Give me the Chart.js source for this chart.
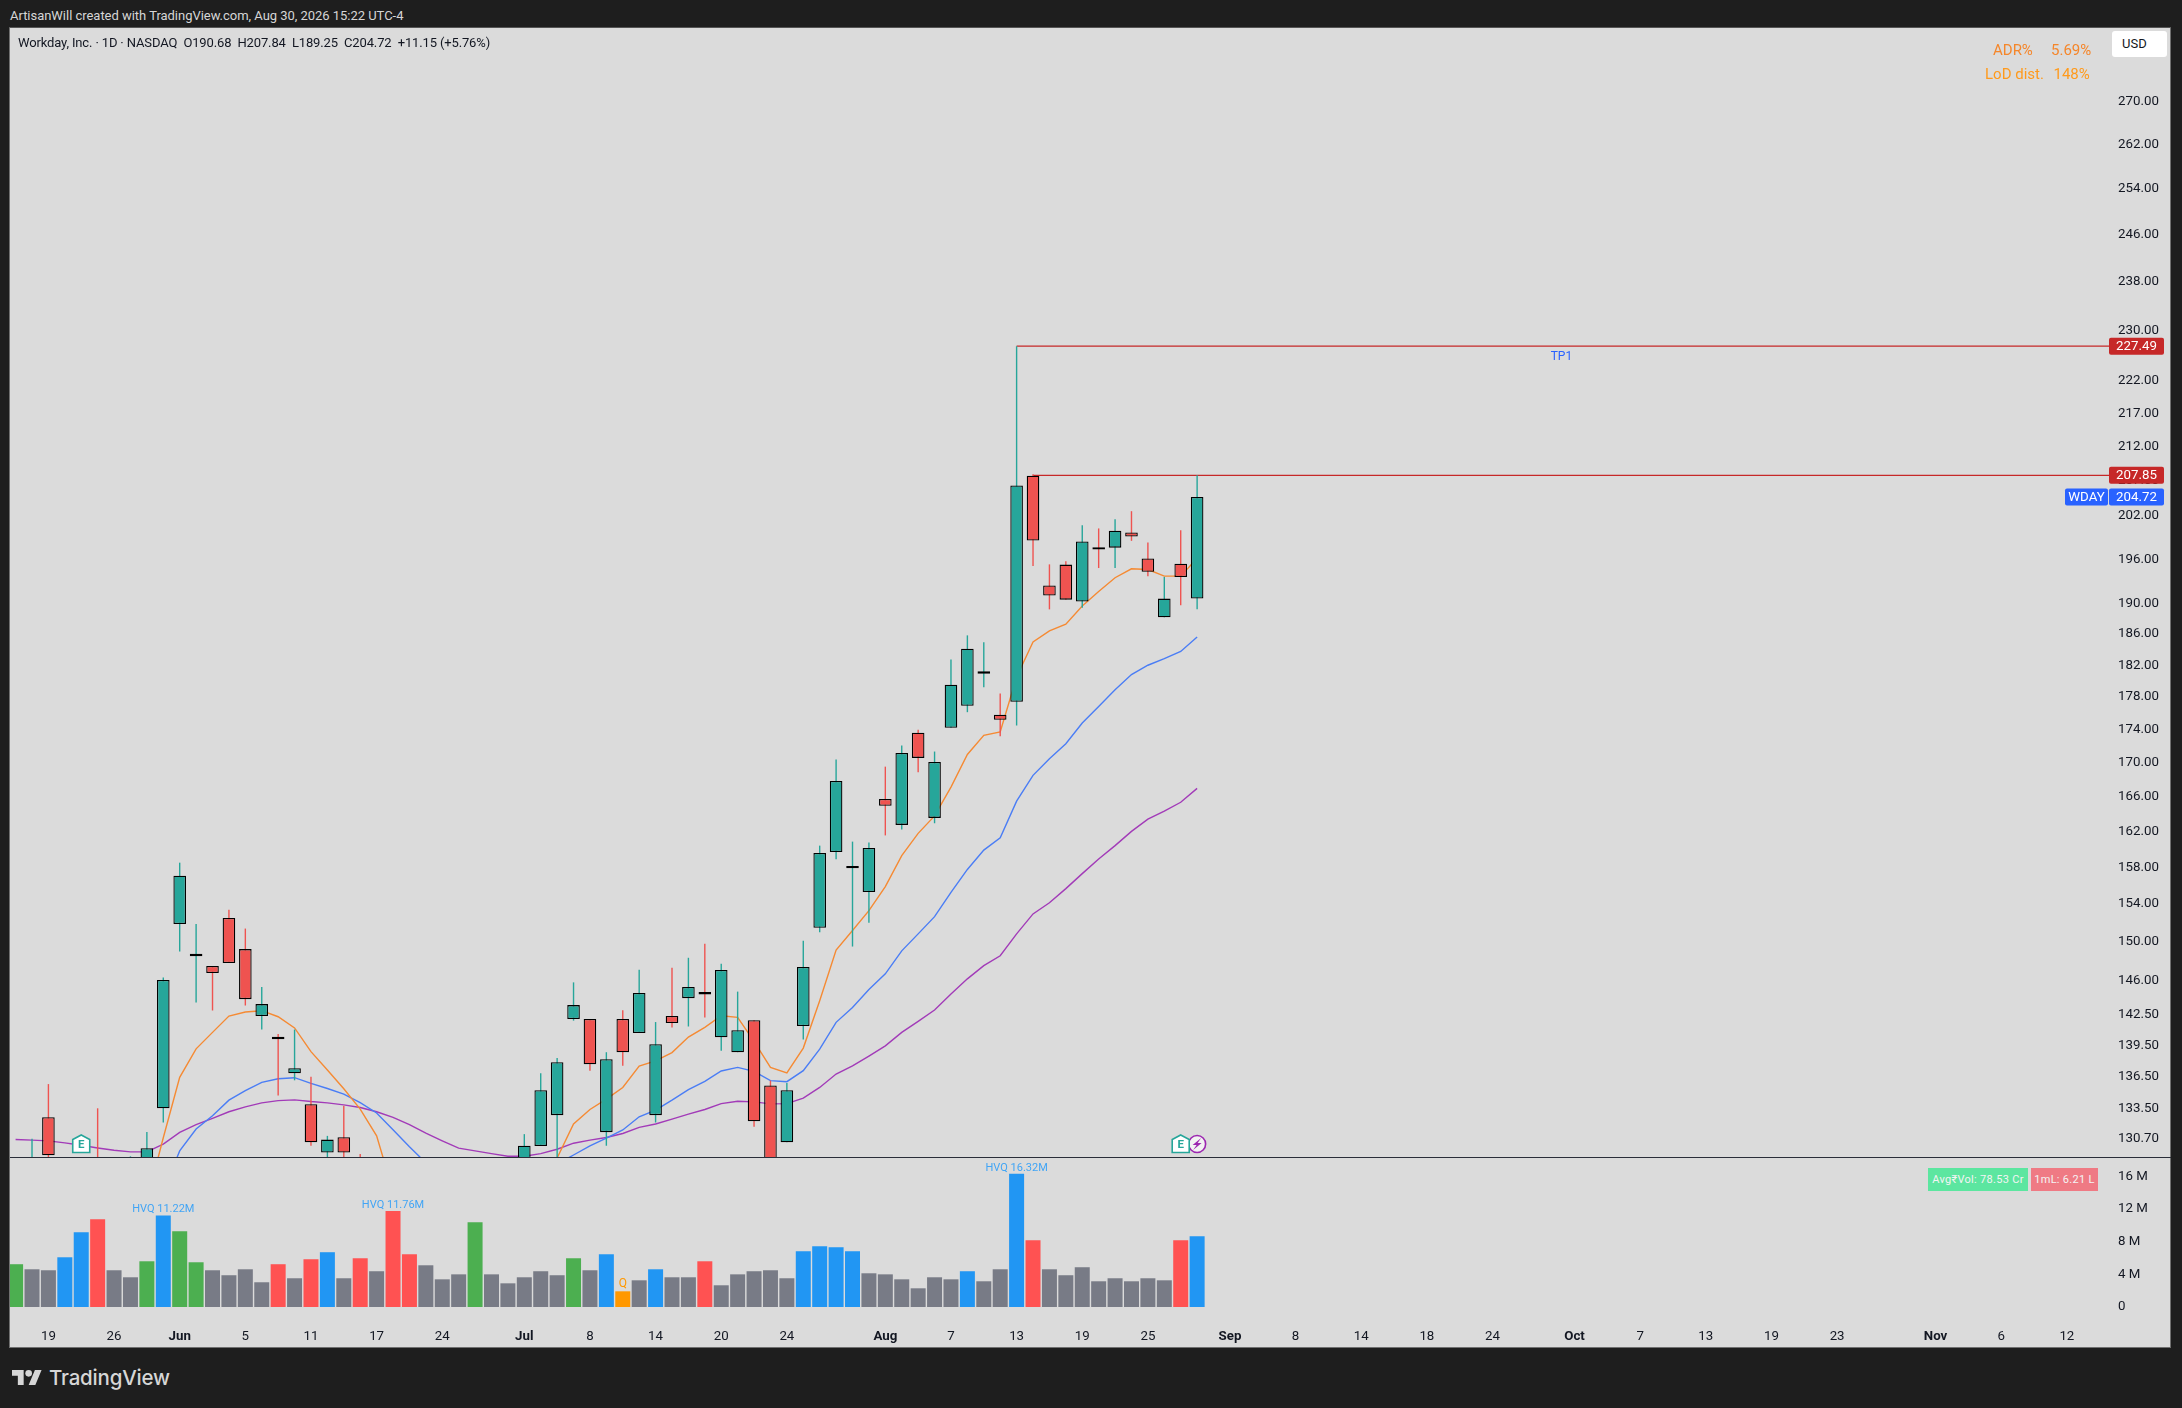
<!DOCTYPE html>
<html>
<head>
<meta charset="utf-8">
<title>WDAY daily</title>
<script src="https://cdn.jsdelivr.net/npm/chart.js@4"></script>
<style>
  html, body { margin: 0; padding: 0; background: #1e1e1e; width: 2182px; height: 1408px; overflow: hidden; }
  body { position: relative; font-family: Roboto, sans-serif; }
  #frame { position: absolute; left: 9px; top: 27px; width: 2162px; height: 1320.5px; background: #dbdbdb; box-sizing: border-box; border: 1.5px solid #707070; border-top-color: #555; }
  #divider { position: absolute; left: 10px; top: 1157px; width: 2161px; height: 1.4px; background: #2a2e39; z-index: 3; }
  canvas { position: absolute; left: 0; }
  #priceCanvas { top: 28px; }
  #volumeCanvas { top: 1158px; }
  .t { position: absolute; white-space: nowrap; line-height: 1; z-index: 4; }
  #credit { left: 10px; top: 9px; font-size: 13px; color: #d6d6d6; letter-spacing: -0.03px; }
  #symbol { left: 18px; top: 36px; font-size: 13px; color: #131722; letter-spacing: -0.14px; }
  #usd { left: 2112px; top: 31px; width: 55px; height: 26px; background: #fff; border-radius: 3px; z-index: 4; position: absolute; font-size: 13px; line-height: 26px; color: #131722; text-indent: 10px; }
  .adr { color: #f5862a; font-size: 15px; }
  .lod { color: #ff9a1c; font-size: 15px; }
  .badge { position: absolute; top: 1168px; height: 23px; line-height: 23px; color: #f4f4f4; font-size: 11px; text-align: center; z-index: 4; letter-spacing: 0.3px; }
  #logoText { left: 49px; top: 1368px; font-family: Inter, sans-serif; font-weight: 500; font-size: 20.5px; color: #d6d6d6; letter-spacing: -0.2px; }
  #logoMark { position: absolute; left: 12px; top: 1370px; width: 30px; height: 15px; }
</style>
</head>
<body>
<div id="frame"></div>
<canvas id="priceCanvas" width="2182" height="1129"></canvas>
<canvas id="volumeCanvas" width="2182" height="189"></canvas>
<div id="divider"></div>

<div class="t" id="credit">ArtisanWill created with TradingView.com, Aug 30, 2026 15:22 UTC-4</div>
<div class="t" id="symbol">Workday, Inc. · 1D · NASDAQ &nbsp;O190.68 &nbsp;H207.84 &nbsp;L189.25 &nbsp;C204.72 &nbsp;+11.15 (+5.76%)</div>
<div id="usd">USD</div>
<div class="t adr" style="left:1993px;top:42.5px">ADR%</div>
<div class="t adr" style="left:2051px;top:42.5px">5.69%</div>
<div class="t lod" style="left:1985px;top:66.5px">LoD dist.</div>
<div class="t lod" style="left:2053.5px;top:66.5px">148%</div>
<div class="badge" style="left:1928px;width:100px;background:#5ce6a0">Avg₹Vol: 78.53 Cr</div>
<div class="badge" style="left:2031px;width:67px;background:#ef7a84">1mL: 6.21 L</div>
<svg id="logoMark" viewBox="0 4 36 18"><g fill="#d6d6d6"><path d="M14 22H7V11H0V4h14v18zM28 22h-8l7.5-18h8L28 22z"/><circle cx="20" cy="8" r="4"/></g></svg>
<div class="t" id="logoText">TradingView</div>

<script>
// daily bars, May 15 to Aug 28; null where the bar sits entirely under the pane
const opens = [null,125,132.68,null,null,127,null,125,126,133.51,151.87,148.5,147.48,152.51,149.23,142.4,140.14,136.82,133.89,129.45,130.83,127,
  null,null,null,null,null,null,null,null,null,127,130.03,132.87,142.11,142.11,131.3,142.11,140.73,132.87,142.41,144.2,144.83,140.3,138.85,142,135.65,130.37,
  141.41,151.47,159.72,157.9,155.3,165.75,162.77,173.6,163.57,174.2,176.91,180.93,175.8,177.4,207.8,192.43,195.27,190.28,197.61,197.6,199.7,196.1,188.2,195.4,190.68];
const highs = [null,130.69,135.79,null,null,133.51,null,129.1,131.32,146.3,158.53,151.87,147.48,153.4,151.39,145.33,140.63,141.07,136.49,130.96,133.76,129.3,
  null,null,null,null,null,null,null,null,null,131.12,136.82,138.3,145.8,142.11,138.85,142.99,147.1,141.81,147.3,148.33,149.78,147.71,144.86,142,136.13,135.9,
  150.1,160.43,170.38,160.88,160.77,169.54,172.07,173.96,171.34,182.74,185.84,184.95,178.44,227.49,207.99,195.3,195.72,200.7,200.27,201.55,202.7,198.3,193.6,200,207.84];
const lows = [null,124,128,null,null,124,null,124,125,132.18,148.98,143.76,142.96,147.79,143.46,141.07,134.7,136.15,130.06,128,128,125,
  null,null,null,null,null,null,null,null,null,126,130.03,128,141.95,137.07,130.06,137.55,140.73,132.19,141.27,141.37,142.27,139,138.85,131.8,125,130.37,
  140.09,151,158.9,149.5,152,161.58,162.26,168.88,162.96,174.2,176.12,179.23,173.18,174.49,195.07,189.25,190.54,189.48,194.8,194.8,198.54,193.7,188.2,189.8,189.25];
const closes = [null,126.5,129.2,null,null,125,null,126,129.83,146.04,157.08,148.71,146.76,147.79,144.1,143.6,140.12,137.3,130.37,130.62,129.45,126,
  null,null,null,null,null,null,null,null,null,130.07,135.2,137.89,143.5,137.68,138.17,138.85,144.72,139.63,141.71,145.33,144.58,147.06,141,132.3,126,135.2,
  147.37,159.61,167.86,158,160.17,164.96,171.18,170.58,170.1,179.53,184.11,181.18,175.18,206.38,198.58,191.1,190.54,198.44,197.33,199.96,199.15,194.3,190.68,193.57,204.72];

const ema10 = [null,null,null,null,null,null,null,null,125.13,130.79,136.43,139.18,140.79,142.41,142.81,142.94,142.34,141.23,138.91,137.13,135.35,133.43,130.97,125.99,
  null,null,null,null,null,null,null,null,125.99,128.95,132.05,133.4,134.37,135.47,137.51,138.02,138.81,140.33,141.29,142.44,142.28,139.9,137.38,136.85,
  139.25,143.93,149.13,151.18,153.3,155.9,159.31,161.81,163.8,167.13,170.99,173.29,173.7,180.5,184.98,186.43,187.3,189.7,191.63,193.48,194.7,194.6,193.7,193.7,196.15];
const ema20 = [null,null,null,null,null,null,null,null,null,126,129.59,131.59,132.82,134.27,135.17,135.96,136.3,136.4,135.85,135.37,134.84,134.04,133.07,131.53,129.96,128.52,126.4,
  null,null,null,null,null,126.9,128.41,129.22,130.04,130.76,131.5,132.72,133.34,134.27,135.26,136.05,137.04,137.38,137,136.12,136.02,
  137.07,139.15,141.78,143.27,145.08,146.67,149.05,150.83,152.66,155.28,157.78,159.93,161.3,165.5,168.51,170.48,172.28,174.8,176.83,178.92,180.82,182,182.84,183.76,185.64];
const ema50 = [130.63,130.57,130.5,130.32,130.1,129.86,129.65,129.5,129.5,130.21,131.28,131.99,132.57,133.19,133.65,134.02,134.23,134.3,134.14,134.02,133.83,133.58,133.19,132.66,131.99,131.22,130.51,129.84,129.59,129.34,129.11,129.11,129.34,129.74,130.29,130.57,130.81,131.18,131.74,132.05,132.51,132.97,133.4,133.95,134.17,134.11,133.92,133.95,
  134.46,135.47,136.75,137.54,138.48,139.47,140.79,141.88,143.01,144.62,146.16,147.52,148.54,150.83,152.95,154.15,155.68,157.32,158.94,160.43,162.04,163.42,164.36,165.37,166.98];

// millions of shares; volumeKinds: n plain, u up, d down, h heavy, q quiet
const volumes = [5.24,4.62,4.5,6.09,9.16,10.76,4.5,3.64,5.6,11.22,9.28,5.48,4.5,3.89,4.62,3.03,5.24,3.52,5.85,6.71,3.52,5.97,4.38,11.76,6.46,5.11,3.39,4,10.39,4,2.9,3.64,4.38,3.89,5.97,4.5,6.46,1.92,
  3.27,4.62,3.64,3.64,5.6,2.66,4,4.38,4.5,3.52,6.83,7.44,7.32,6.83,4.13,4,3.39,2.29,3.64,3.39,4.38,3.15,4.62,16.32,8.18,4.62,3.89,4.87,3.15,3.52,3.15,3.52,3.27,8.18,8.67];
const volumeKinds = ['u','n','n','h','h','d','n','n','u','h','u','u','n','n','n','n','d','n','d','h','n','d','n','d','d','n','n','n','u','n','n','n','n','n','u','n','h','q',
  'n','h','n','n','d','n','n','n','n','n','h','h','h','h','n','n','n','n','n','n','h','n','n','h','d','n','n','n','n','n','n','n','n','d','h'];
const volumeNoteBars = [9, 23, 61];
const volumeNotes = ['HVQ 11.22M', 'HVQ 11.76M', 'HVQ 16.32M'];
const quietBar = 37;
const quietNote = 'Q';

const priceTicks = [130.7,133.5,136.5,139.5,142.5,146,150,154,158,162,166,170,174,178,182,186,190,196,202,207,212,217,222,230,238,246,254,262,270];
const volumeTicks = [0,4,8,12,16];
const volumeTickLabels = ['0','4 M','8 M','12 M','16 M'];
const timeTickBars = [2,6,10,14,18,22,26,31,35,39,43,47,53,57,61,65,69,74,78,82,86,90,95,99,103,107,111,117,121,125];
const timeTickLabels = ['19','26','Jun','5','11','17','24','Jul','8','14','20','24','Aug','7','13','19','25','Sep','8','14','18','24','Oct','7','13','19','23','Nov','6','12'];
const monthLabels = ['Jun','Jul','Aug','Sep','Oct','Nov'];

const targetBar = 61, targetPrice = 227.49, targetLabel = 'TP1', targetLabelBar = 94.2;
const resistanceBar = 62, resistancePrice = 207.85;
const lastPrice = 204.72, ticker = 'WDAY';
const earningsBars = [4, 71];
const dividendBar = 72;

const priceMin = 129.04, priceMax = 284.18;
const volumeMax = 18.25;
const barMin = -0.341, barMax = 127.69;

const UP = '#26a69a', DOWN = '#ef5350', INK = '#131722';
const AXIS_FONT = { family: 'Roboto, sans-serif', size: 13.3 };
const KIND_COLORS = { n: '#787b86', u: '#4caf50', d: '#ff5252', h: '#2196f3', q: '#ff9800' };
const LAYOUT = { autoPadding: false, padding: { left: 10, right: 11, top: 0, bottom: 0 } };

const isDown = (i) => closes[i] < opens[i];
const existing = opens.map((_, i) => i).filter((i) => opens[i] !== null);
const lineData = (values) => values.map((y, x) => ({ x, y }));
const levelData = (bar, price) => [{ x: bar, y: price }, { x: barMax, y: price }];
const overlay = (data, color, order, width = 1.4) => ({
  type: 'line', data, borderColor: color, borderWidth: width, pointRadius: 0, tension: 0, order,
});

// tick labels may hang over the plot edge, so the axes must not reserve room for them
function noScalePadding(scale) {
  scale.paddingTop = 0;
  scale.paddingBottom = 0;
  scale.paddingLeft = 0;
  scale.paddingRight = 0;
}

function sizedYAxis(extra) {
  return Object.assign({
    position: 'right',
    grid: { display: false, drawTicks: false },
    border: { display: false },
    afterFit(scale) {
      scale.width = 60;
      noScalePadding(scale);
    },
  }, extra);
}

function tag(ctx, left, width, centerY, color, text) {
  ctx.fillStyle = color;
  ctx.beginPath();
  ctx.roundRect(left, centerY - 8.5, width, 17, 2);
  ctx.fill();
  ctx.fillStyle = '#ffffff';
  ctx.font = '13.3px Roboto, sans-serif';
  ctx.textAlign = 'center';
  ctx.textBaseline = 'middle';
  ctx.fillText(text, left + width / 2, centerY + 0.5);
}

function earningsFlag(ctx, x, y) {
  ctx.beginPath();
  ctx.moveTo(x, y - 9);
  ctx.lineTo(x + 8.5, y - 4.5);
  ctx.lineTo(x + 8.5, y + 8.5);
  ctx.lineTo(x - 8.5, y + 8.5);
  ctx.lineTo(x - 8.5, y - 4.5);
  ctx.closePath();
  ctx.fillStyle = '#ffffff';
  ctx.fill();
  ctx.strokeStyle = '#26a69a';
  ctx.lineWidth = 1.6;
  ctx.stroke();
  ctx.fillStyle = '#26a69a';
  ctx.font = 'bold 11.5px Roboto, sans-serif';
  ctx.textAlign = 'center';
  ctx.textBaseline = 'middle';
  ctx.fillText('E', x, y + 1);
}

function dividendFlag(ctx, x, y) {
  ctx.beginPath();
  ctx.arc(x, y, 8.5, 0, Math.PI * 2);
  ctx.fillStyle = '#f2f2f2';
  ctx.fill();
  ctx.strokeStyle = '#9c27b0';
  ctx.lineWidth = 1.6;
  ctx.stroke();
  ctx.beginPath();
  ctx.moveTo(x + 4, y - 6);
  ctx.lineTo(x - 4.5, y + 1);
  ctx.lineTo(x - 0.5, y + 1);
  ctx.lineTo(x - 4, y + 6);
  ctx.lineTo(x + 4.5, y - 1);
  ctx.lineTo(x + 0.5, y - 1);
  ctx.closePath();
  ctx.fillStyle = '#9c27b0';
  ctx.fill();
}

const priceMarks = {
  id: 'priceMarks',
  afterDraw(chart) {
    const { ctx, chartArea, scales } = chart;
    const y = scales.y, x = scales.x;
    const tagLeft = chartArea.right - 2;
    ctx.save();
    ctx.fillStyle = '#2962ff';
    ctx.font = '12px Roboto, sans-serif';
    ctx.textAlign = 'center';
    ctx.textBaseline = 'middle';
    ctx.fillText(targetLabel, x.getPixelForValue(targetLabelBar), y.getPixelForValue(targetPrice) + 11);
    tag(ctx, tagLeft, 55, y.getPixelForValue(targetPrice), '#c62828', targetPrice.toFixed(2));
    tag(ctx, tagLeft, 55, y.getPixelForValue(resistancePrice), '#c62828', resistancePrice.toFixed(2));
    tag(ctx, tagLeft, 55, y.getPixelForValue(lastPrice), '#2962ff', lastPrice.toFixed(2));
    tag(ctx, tagLeft - 44, 43, y.getPixelForValue(lastPrice), '#2962ff', ticker);
    const flagY = chartArea.bottom - 13;
    dividendFlag(ctx, x.getPixelForValue(dividendBar), flagY);
    earningsBars.forEach((bar) => earningsFlag(ctx, x.getPixelForValue(bar), flagY));
    ctx.restore();
  },
};

const volumeMarks = {
  id: 'volumeMarks',
  afterDatasetsDraw(chart) {
    const { ctx, scales } = chart;
    ctx.save();
    ctx.textAlign = 'center';
    ctx.textBaseline = 'bottom';
    ctx.fillStyle = '#42a5f5';
    ctx.font = '11px Roboto, sans-serif';
    volumeNoteBars.forEach((bar, i) => {
      ctx.fillText(volumeNotes[i], scales.x.getPixelForValue(bar), scales.y.getPixelForValue(volumes[bar]) - 0.5);
    });
    ctx.fillStyle = '#ff9800';
    ctx.font = '12px Roboto, sans-serif';
    ctx.fillText(quietNote, scales.x.getPixelForValue(quietBar), scales.y.getPixelForValue(volumes[quietBar]) - 1);
    ctx.restore();
  },
};

new Chart(document.getElementById('priceCanvas'), {
  type: 'bar',
  plugins: [priceMarks],
  data: {
    datasets: [
      {
        data: existing.map((i) => ({ x: i, y: [opens[i], closes[i]] })),
        backgroundColor: existing.map((i) => (isDown(i) ? DOWN : UP)),
        borderColor: '#000000',
        borderWidth: 1.3,
        borderSkipped: false,
        inflateAmount: 0,
        barThickness: 12.6,
        minBarLength: 2.4,
        grouped: false,
        order: 1,
      },
      {
        data: existing.map((i) => ({ x: i, y: [lows[i], highs[i]] })),
        backgroundColor: existing.map((i) => (isDown(i) ? DOWN : UP)),
        borderWidth: 0,
        inflateAmount: 0,
        barThickness: 1.4,
        grouped: false,
        order: 2,
      },
      overlay(lineData(ema10), '#f58a33', 3),
      overlay(lineData(ema20), '#4a7df5', 4),
      overlay(lineData(ema50), '#a23bb8', 5),
      overlay(levelData(targetBar, targetPrice), '#c62828', 6, 1.3),
      overlay(levelData(resistanceBar, resistancePrice), '#c62828', 6, 1.3),
    ],
  },
  options: {
    responsive: false,
    animation: false,
    devicePixelRatio: 1,
    layout: LAYOUT,
    plugins: { legend: { display: false }, tooltip: { enabled: false } },
    scales: {
      x: { type: 'linear', display: false, offset: false, min: barMin, max: barMax, grid: { display: false, offset: false } },
      y: sizedYAxis({
        type: 'logarithmic',
        bounds: 'data',
        min: priceMin,
        max: priceMax,
        afterBuildTicks(scale) { scale.ticks = priceTicks.map((value) => ({ value })); },
        ticks: {
          color: INK, font: AXIS_FONT, padding: 7, crossAlign: 'near', autoSkip: false,
          callback: (value) => Number(value).toFixed(2),
        },
      }),
    },
  },
});

new Chart(document.getElementById('volumeCanvas'), {
  type: 'bar',
  plugins: [volumeMarks],
  data: {
    datasets: [{
      data: volumes.map((y, x) => ({ x, y })),
      backgroundColor: volumeKinds.map((kind) => KIND_COLORS[kind]),
      borderWidth: 0,
      inflateAmount: 0,
      barThickness: 15,
    }],
  },
  options: {
    responsive: false,
    animation: false,
    devicePixelRatio: 1,
    layout: LAYOUT,
    plugins: { legend: { display: false }, tooltip: { enabled: false } },
    scales: {
      x: {
        type: 'linear',
        offset: false,
        min: barMin,
        max: barMax,
        grid: { display: false, drawTicks: false, offset: false },
        border: { display: false },
        afterBuildTicks(scale) { scale.ticks = timeTickBars.map((value) => ({ value })); },
        afterFit(scale) {
          scale.height = 40;
          noScalePadding(scale);
        },
        ticks: {
          color: INK,
          padding: 21.5,
          maxRotation: 0,
          autoSkip: false,
          font: (ctx) => ({
            family: 'Roboto, sans-serif',
            size: 13.3,
            weight: monthLabels.includes(timeTickLabels[ctx.index]) ? 'bold' : 'normal',
          }),
          callback: (value, index) => timeTickLabels[index],
        },
      },
      y: sizedYAxis({
        min: 0,
        max: volumeMax,
        afterBuildTicks(scale) { scale.ticks = volumeTicks.map((value) => ({ value })); },
        ticks: {
          color: INK, font: AXIS_FONT, padding: 7, crossAlign: 'near', autoSkip: false,
          callback: (value, index) => volumeTickLabels[index],
        },
      }),
    },
  },
});
</script>
</body>
</html>
